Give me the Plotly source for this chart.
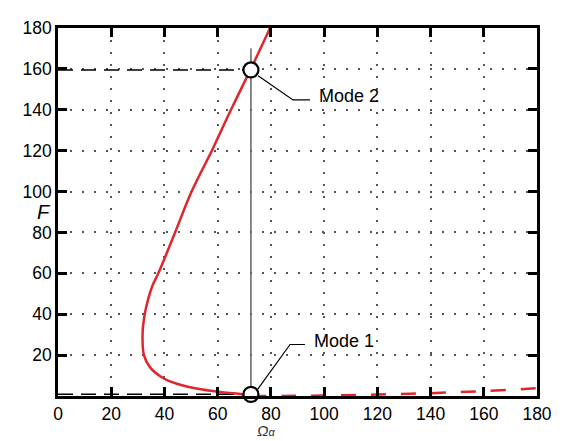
import plotly.graph_objects as go

# stable branch (solid red)
omega_solid = [72.5, 68.4, 60.9, 52, 44.6, 39, 34.6, 32.3, 31.8, 32.6, 33.8, 35.5, 37.7, 44, 50.2, 57.8, 65, 72.3, 79.7]
F_solid = [0, 1, 2, 3.7, 6, 9.2, 14, 20, 31, 40, 47, 54, 60, 80, 100, 120, 140, 159.5, 180]

# dashed red branch
omega_dash = [72.5, 100, 120, 140, 160, 180]
F_dash = [0, 0.2, 0.7, 1.4, 2.4, 3.8]

# mode points
mode_omega = [72.5, 72.5]
mode_F = [0.8, 159.5]
mode_names = ["Mode 1", "Mode 2"]

ticks = list(range(0, 181, 20))

fig = go.Figure()

# guide lines
fig.add_trace(go.Scatter(x=[72.5, 72.5], y=[0, 170], mode="lines",
                         line=dict(color="#6e6e6e", width=1.6), showlegend=False))
fig.add_trace(go.Scatter(x=[0, 72.5], y=[159.5, 159.5], mode="lines",
                         line=dict(color="black", width=1.5, dash="15px,8px"), showlegend=False))
fig.add_trace(go.Scatter(x=[0, 72.5], y=[0.8, 0.8], mode="lines",
                         line=dict(color="black", width=1.5, dash="15px,8px"), showlegend=False))

fig.add_trace(go.Scatter(x=omega_solid, y=F_solid, mode="lines", line_shape="spline",
                         line=dict(color="#e0262b", width=2.5, smoothing=1), showlegend=False))
fig.add_trace(go.Scatter(x=omega_dash, y=F_dash, mode="lines", line_shape="spline",
                         line=dict(color="#e0262b", width=2.5, dash="15px,15px"), showlegend=False))

# leader lines
fig.add_trace(go.Scatter(x=[75.2, 88.3, 94.7], y=[156.7, 144.8, 144.8], mode="lines",
                         line=dict(color="black", width=1.2), showlegend=False))
fig.add_trace(go.Scatter(x=[74.8, 87.2, 92.8], y=[2.9, 25.2, 25.2], mode="lines",
                         line=dict(color="black", width=1.2), showlegend=False))

fig.add_trace(go.Scatter(x=mode_omega, y=mode_F, mode="markers", cliponaxis=False,
                         marker=dict(size=15, color="white", line=dict(color="black", width=2.2)),
                         showlegend=False))

fig.add_annotation(x=97.5, y=146.7, text=mode_names[1], showarrow=False, xanchor="left",
                   font=dict(size=18, color="black"))
fig.add_annotation(x=95.6, y=26.7, text=mode_names[0], showarrow=False, xanchor="left",
                   font=dict(size=18, color="black"))

# x label: small alpha kept on the same line so the box stays short
fig.add_annotation(x=0.435, y=-0.119, xref="paper", yref="paper",
                   text="<i>Ω</i><span style='font-size:11px'><i>α</i></span>",
                   showarrow=False, yanchor="bottom", borderpad=0, font=dict(size=15, color="#333"))
fig.add_annotation(x=-0.048, y=0.5, xref="paper", yref="paper", text="<i>F</i>",
                   showarrow=False, font=dict(size=20, color="black"))

axis_style = dict(range=[0, 180], showline=True, linecolor="black", linewidth=2.5, mirror="ticks",
                  ticks="inside", ticklen=9, tickwidth=2.5, tickcolor="black",
                  showgrid=True, gridcolor="#555", griddash="1.5px,10.5px", gridwidth=1.5,
                  zeroline=False, tickfont=dict(size=17.5, color="black"))

fig.update_xaxes(**axis_style, tickvals=ticks, ticktext=[str(t) for t in ticks])
fig.update_yaxes(**axis_style, tickvals=ticks[1:], ticktext=[str(t) for t in ticks[1:]])

# page body adds an 8px offset, so size and margins are reduced to match
fig.update_layout(width=554, height=433, margin=dict(l=50, r=25, t=10, b=45),
                  plot_bgcolor="white", paper_bgcolor="white",
                  font=dict(family="Liberation Sans, Arial, sans-serif"))

fig.write_html("out.html")
